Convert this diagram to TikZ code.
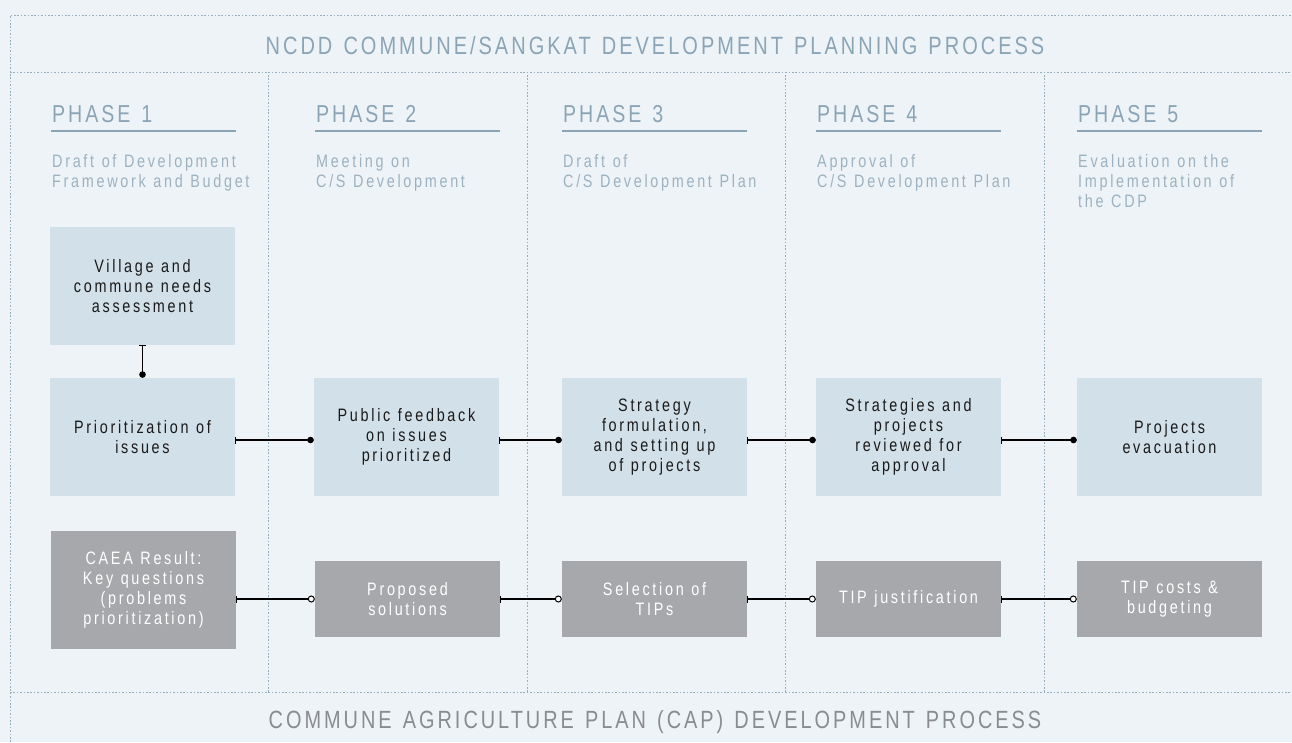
\documentclass[tikz,border=0pt]{standalone}
\usepackage{fontspec}
\usetikzlibrary{arrows.meta,calc}
\setmainfont{Liberation Sans}
\newfontfamily\cond[FakeStretch=0.8,LetterSpace=12,WordSpace=1.3]{Liberation Sans}
\newfontfamily\condb[FakeStretch=0.8,LetterSpace=15]{Liberation Sans}
\definecolor{bg}{HTML}{EEF3F7}
\definecolor{dotc}{HTML}{96AFBF}
\definecolor{titlec}{HTML}{8BA5B6}
\definecolor{subc}{HTML}{9DB2C0}
\definecolor{lightbox}{HTML}{D2E0E9}
\definecolor{graybox}{HTML}{A7A8AB}
\definecolor{bottomc}{HTML}{8A8C8F}
\definecolor{boxtext}{HTML}{1A1A1A}
\tikzset{
  wsp/.style={execute at begin node={\spaceskip=0.42em\relax}},
  dotline/.style={draw=dotc,line width=1pt,dash pattern=on 1.6pt off 1.8pt},
  phasetitle/.style={anchor=base west,inner sep=0,text=titlec,font=\cond\fontsize{24.5}{27}\selectfont},
  phaserule/.style={draw=titlec,line width=2.6pt},
  phasesub/.style={wsp,anchor=north west,inner sep=0,align=left,text=subc,font=\condb\fontsize{18}{20}\selectfont},
  lbox/.style={wsp,fill=lightbox,minimum width=185pt,minimum height=118pt,inner sep=0,text width=182pt,align=center,text=boxtext,font=\condb\fontsize{18}{20}\selectfont},
  gbox/.style={wsp,fill=graybox,minimum width=185pt,minimum height=76pt,inner sep=0,text width=182pt,align=center,text=white,font=\condb\fontsize{18}{20}\selectfont},
  fconn/.style={draw=black,line width=1.1pt,{Bar[width=7pt,line width=1pt]}-{Circle[length=6.5pt]}},
  oconn/.style={draw=black,line width=1.1pt,{Bar[width=7pt,line width=1pt]}-{Circle[open,fill=white,length=7pt,line width=1pt]}},
}
\begin{document}
\begin{tikzpicture}[x=1pt,y=-1pt]
\useasboundingbox (0,0) rectangle (1292,742);
\fill[bg] (0,0) rectangle (1292,742);
% frame
\draw[dotline] (10,742) -- (10,15) -- (1292,15);
\draw[dotline] (10,72) -- (1292,72);
\draw[dotline] (10,692) -- (1292,692);
\foreach \x in {268,527,785,1044} \draw[dotline] (\x,75) -- (\x,692);
% titles
\node[text=titlec,font=\cond\fontsize{25}{30}\selectfont,inner sep=0] (title) at (655,46) {NCDD COMMUNE/SANGKAT DEVELOPMENT PLANNING PROCESS};
\node[text=bottomc,font=\cond\fontsize{24.9}{30}\selectfont,inner sep=0] (btitle) at (655,722) {COMMUNE AGRICULTURE PLAN (CAP) DEVELOPMENT PROCESS};
% phases
\foreach \x/\n/\t in {51/1/{Draft of Development\\Framework and Budget},315/2/{Meeting on\\C/S Development},562/3/{Draft of\\C/S Development Plan},816/4/{Approval of\\C/S Development Plan},1077/5/{Evaluation on the\\Implementation of\\the CDP}}{
  \node[phasetitle] (ph\n) at (\x+1,122) {PHASE \n};
  \draw[phaserule] (\x,131) -- (\x+185,131);
  \node[phasesub] (sub\n) at (\x+1,154) {\t};
}
% light boxes
\node[lbox] (village) at (142.5,286) {Village and\\commune needs\\assessment};
\node[lbox] (prio) at (142.5,437) {Prioritization of\\issues};
\node[lbox] (public) at (406.5,437) {Public feedback\\on issues\\prioritized};
\node[lbox] (strat) at (654.5,437) {Strategy\\formulation,\\and setting up\\of projects};
\node[lbox] (review) at (908.5,437) {Strategies and\\projects\\reviewed for\\approval};
\node[lbox] (evac) at (1169.5,437) {Projects\\evacuation};
% gray boxes
\node[gbox,minimum height=118pt] (caea) at (143.5,590) {CAEA Result:\\Key questions\\(problems\\prioritization)};
\node[gbox] (prop) at (407.5,599) {Proposed\\solutions};
\node[gbox] (sel) at (654.5,599) {Selection of\\TIPs};
\node[gbox] (just) at (908.5,599) {TIP justification};
\node[gbox] (cost) at (1169.5,599) {TIP costs \&\\budgeting};
% connectors
\draw[fconn] (village.south) -- (prio.north);
\draw[fconn] ([yshift=-3pt]prio.east) -- ([yshift=-3pt]public.west);
\draw[fconn] ([yshift=-3pt]public.east) -- ([yshift=-3pt]strat.west);
\draw[fconn] ([yshift=-3pt]strat.east) -- ([yshift=-3pt]review.west);
\draw[fconn] ([yshift=-3pt]review.east) -- ([yshift=-3pt]evac.west);
\draw[oconn] ([yshift=-9pt]caea.east) -- (prop.west);
\draw[oconn] (prop.east) -- (sel.west);
\draw[oconn] (sel.east) -- (just.west);
\draw[oconn] (just.east) -- (cost.west);
\end{tikzpicture}
\end{document}
